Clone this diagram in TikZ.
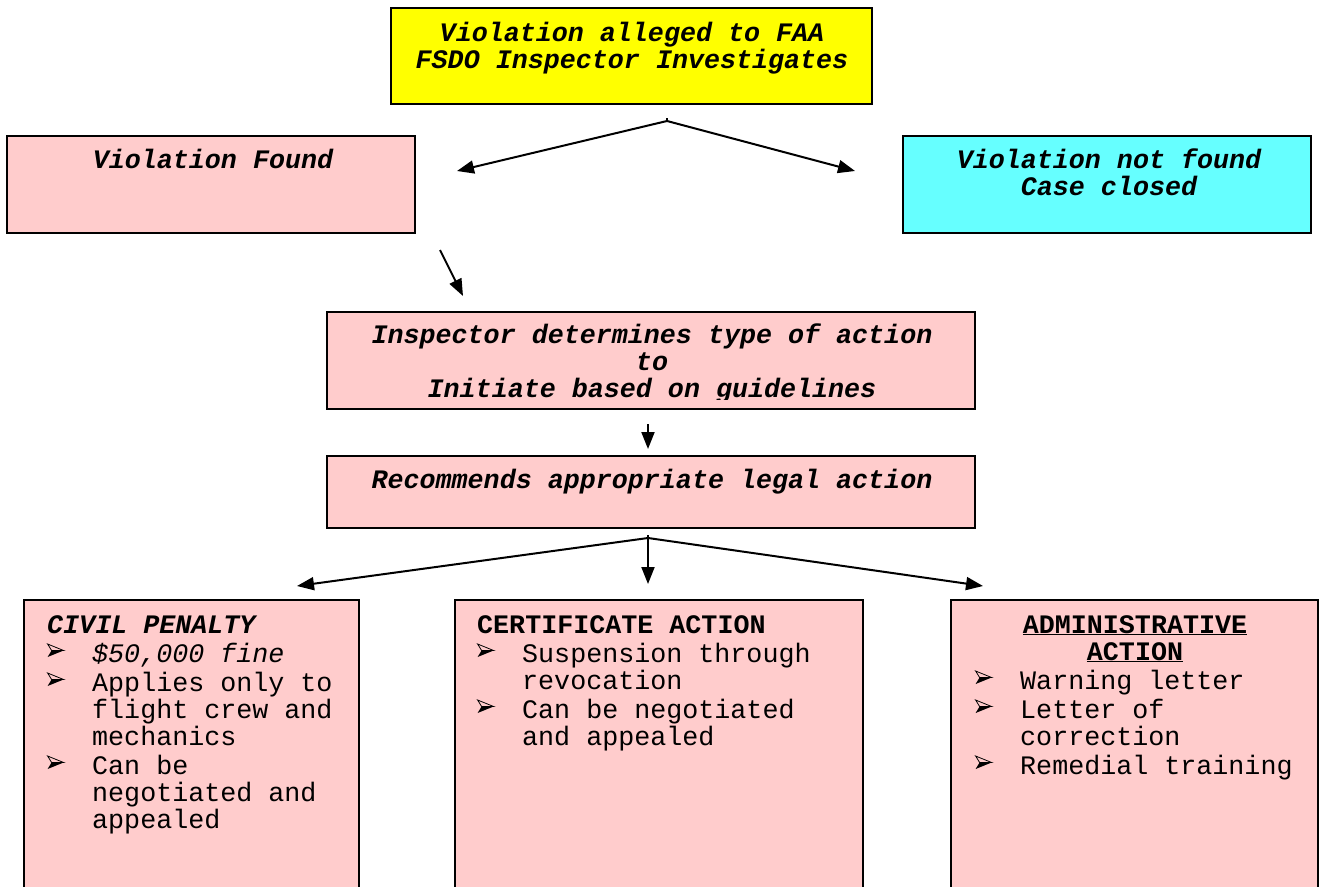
\documentclass[tikz,border=0pt]{standalone}
\usepackage{fontspec}
\setmainfont{Liberation Mono}
\usetikzlibrary{arrows.meta,positioning}

% 3D arrowhead bullet
\newcommand\bulletmark{\tikz[baseline=-5pt,x=1pt,y=1pt,line width=0.8pt,line join=miter]{
  \draw (0,13) -- (16,6.5) -- (4,6.5) -- cycle;
  \fill (4,6.5) -- (16,6.5) -- (0,0) -- cycle;}}
% list item with the bullet and hanging indent
\newcommand\arrowitem[1]{\hangindent=45pt\hangafter=1\noindent
  \makebox[45pt][l]{\bulletmark}{#1}\par}

\begin{document}
\begin{tikzpicture}
		[x=1pt,y=-1pt,line cap=butt,
		font=\fontsize{26.7pt}{27pt}\selectfont,
		%Styles
		box/.style={draw,line width=2pt,inner sep=0pt},
		caption/.style={font=\fontsize{26.7pt}{27pt}\selectfont\bfseries\itshape,align=center,inner sep=0pt,anchor=base},
		list text/.style={text width=420pt,align=flush left,inner sep=0pt,anchor=base west},
		arrow line/.style={line width=2pt,-{Triangle[length=17pt,width=13pt]}}
		]
		
		%Colors
		\colorlet{pinkbox}{red!20}
		\definecolor{alleged}{HTML}{FFFF00}
		\definecolor{closed}{HTML}{66FFFF}
		
		\useasboundingbox (0,0) rectangle (1319,886);
		\clip (0,0) rectangle (1319,886);
		
		%The graphic
		\node[box,fill=alleged,minimum width=481pt,minimum height=96pt] (alleged) at (631.5,56) {};
		\node[caption] (allegedtext) at (632,68) {Violation alleged to FAA\\FSDO Inspector Investigates};
		
		\node[box,fill=pinkbox,minimum width=408pt,minimum height=97pt] (found) at (211,184.5) {};
		\node[caption] (foundtext) at (213,168) {Violation Found};
		
		\node[box,fill=closed,minimum width=408pt,minimum height=97pt] (notfound) at (1107,184.5) {};
		\node[caption] (notfoundtext) at (1109,195) {Violation not found\\Case closed};
		
		\node[box,fill=pinkbox,minimum width=648pt,minimum height=97pt] (inspector) at (651,360.5) {};
		\begin{scope}
			\clip (327,312) rectangle (975,399);
			\node[caption] (inspectortext) at (652,397) {Inspector determines type of action\\to\\Initiate based on guidelines};
		\end{scope}
		
		\node[box,fill=pinkbox,minimum width=648pt,minimum height=72pt] (recommend) at (651,492) {};
		\node[caption] (recommendtext) at (652,488) {Recommends appropriate legal action};
		
		\node[box,fill=pinkbox,minimum width=335pt,minimum height=350pt] (civil) at (191.5,775) {};
		\node[list text] (civiltext) at (47,633) {\parskip=2pt
			\noindent{\bfseries\itshape CIVIL PENALTY}\par
			\arrowitem{\itshape \$50,000 fine}
			\arrowitem{Applies only to\newline flight crew and\newline mechanics}
			\arrowitem{Can be\newline negotiated and\newline appealed}};
		
		\node[box,fill=pinkbox,minimum width=408pt,minimum height=350pt] (certificate) at (659,775) {};
		\node[list text] (certificatetext) at (477,633) {\parskip=2pt
			\noindent{\bfseries CERTIFICATE ACTION}\par
			\arrowitem{Suspension through\newline revocation}
			\arrowitem{Can be negotiated\newline and appealed}};
		
		\node[box,fill=pinkbox,minimum width=367pt,minimum height=350pt] (admin) at (1134.5,775) {};
		\node[caption,font=\fontsize{26.7pt}{27pt}\selectfont\bfseries] (admintitle) at (1135,660) {\underline{ADMINISTRATIVE}\\\underline{ACTION}};
		\node[list text] (admintext) at (975,689) {\parskip=2pt
			\arrowitem{Warning letter}
			\arrowitem{Letter of\newline correction}
			\arrowitem{Remedial training}};
		
		%Connectors
		\coordinate (split) at (667,121);
		\coordinate (foundend) at (457,171);
		\coordinate (notfoundend) at (855,171);
		\draw[line width=2pt] (split) -- ++(0,-3);
		\draw[arrow line] (split) -- (foundend);
		\draw[arrow line] (split) -- (notfoundend);
		
		\coordinate (foundstart) at (440,250);
		\coordinate (inspectorend) at (463,296);
		\draw[arrow line] (foundstart) -- (inspectorend);
		
		\coordinate (inspectorstart) at (648,424);
		\coordinate (recommendend) at (648,449);
		\draw[arrow line] (inspectorstart) -- (recommendend);
		
		\coordinate (fork) at (648,538);
		\coordinate (civilend) at (297,586);
		\coordinate (certificateend) at (648,584);
		\coordinate (adminend) at (983,586);
		\draw[line width=2pt] (fork) -- ++(0,-3);
		\draw[arrow line] (fork) -- (civilend);
		\draw[arrow line] (fork) -- (certificateend);
		\draw[arrow line] (fork) -- (adminend);
	\end{tikzpicture}
\end{document}
